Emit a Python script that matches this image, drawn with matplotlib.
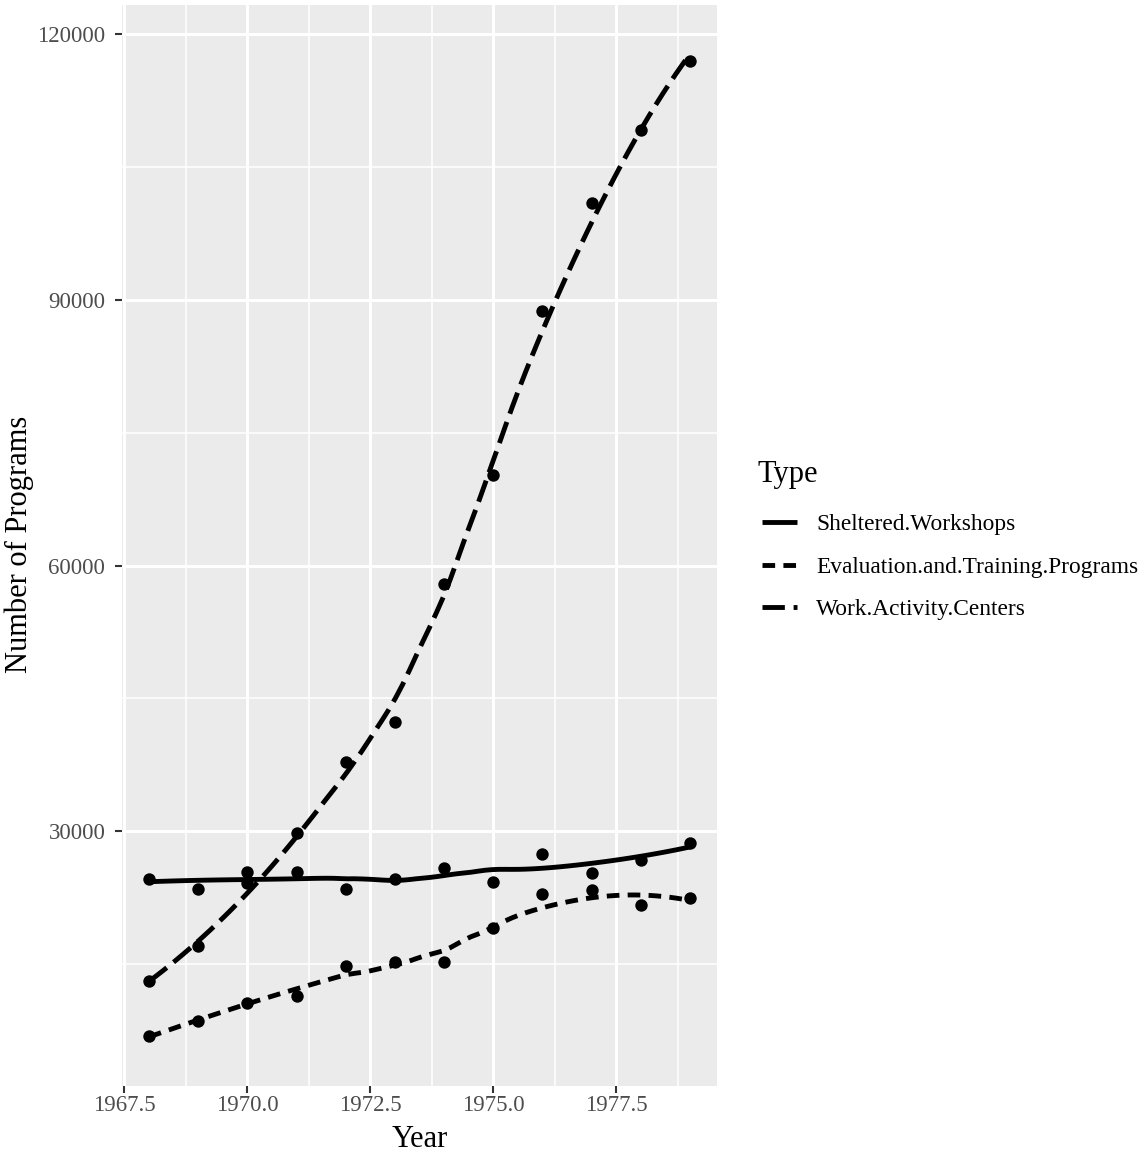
import numpy as np
import matplotlib
matplotlib.use("Agg")
import matplotlib.pyplot as plt
from matplotlib.lines import Line2D
from matplotlib.ticker import MultipleLocator

# ---------------- data ----------------
years = [1968, 1969, 1970, 1971, 1972, 1973, 1974, 1975, 1976, 1977, 1978, 1979]
sheltered_workshops = [24590, 23460, 25380, 25440, 23490, 24620, 25830, 24250, 27440, 25260, 26760, 28650]
evaluation_training = [6910, 8530, 10600, 11430, 14730, 15250, 15180, 19060, 22900, 23380, 21690, 22440]
work_activity_centers = [13040, 16990, 24140, 29840, 37850, 42360, 57890, 70260, 88710, 100940, 109200, 116990]

series_names = ["Sheltered.Workshops", "Evaluation.and.Training.Programs", "Work.Activity.Centers"]
legend_title = "Type"
x_label = "Year"
y_label = "Number of Programs"
x_ticks = [1967.5, 1970.0, 1972.5, 1975.0, 1977.5]
y_ticks = [30000, 60000, 90000, 120000]


def loess(x, y, xnew, span=0.75):
    """Local quadratic regression with tricube weights (as geom_smooth's loess)."""
    x = np.asarray(x, float)
    y = np.asarray(y, float)
    n = len(x)
    q = int(np.floor(n * span))
    out = []
    for x0 in xnew:
        d = np.abs(x - x0)
        h = np.sort(d)[q - 1] * 1.0000001
        w = np.clip(1 - (d / h) ** 3, 0, None) ** 3
        X = np.vstack([np.ones(n), x - x0, (x - x0) ** 2]).T
        W = np.diag(w)
        beta = np.linalg.lstsq(X.T @ W @ X, X.T @ W @ y, rcond=None)[0]
        out.append(beta[0])
    return np.array(out)


plt.rcParams["font.family"] = ["Liberation Serif", "DejaVu Serif"]

W_PX, H_PX, DPI = 1143, 1163, 100
fig = plt.figure(figsize=(W_PX / DPI, H_PX / DPI), dpi=DPI)
ax = fig.add_axes([122 / W_PX, 1 - 1086 / H_PX, (717 - 122) / W_PX, (1086 - 5) / H_PX])

ax.set_facecolor("#EBEBEB")
for s in ax.spines.values():
    s.set_visible(False)

ax.xaxis.set_major_locator(MultipleLocator(2.5))
ax.xaxis.set_minor_locator(MultipleLocator(1.25))
ax.yaxis.set_major_locator(MultipleLocator(30000))
ax.yaxis.set_minor_locator(MultipleLocator(15000))
ax.grid(which="major", color="white", linewidth=2.1)
ax.grid(which="minor", color="white", linewidth=1.1)
ax.set_axisbelow(True)

lw = 3.5
styles = [
    dict(linestyle="-"),
    dict(linestyle=(0, (2.6, 1.7))),
    dict(linestyle=(0, (4.6, 1.8))),
]
xs = np.linspace(min(years), max(years), 80)
all_series = [sheltered_workshops, evaluation_training, work_activity_centers]
handles = []
all_y = []
for name, vals, st in zip(series_names, all_series, styles):
    ax.scatter(years, vals, s=80, color="black", zorder=3, linewidths=0)
    ys = loess(years, vals, xs)
    all_y.append(np.asarray(vals, float))
    all_y.append(ys)
    ax.plot(xs, ys, color="black", lw=lw, solid_capstyle="butt", dash_capstyle="butt", zorder=4, **st)
    handles.append(Line2D([], [], color="black", lw=lw, dash_capstyle="butt", solid_capstyle="butt", **st))

# limits with 5% expansion like ggplot (points and smooth lines both train the scale)
allv = np.concatenate(all_y)
xr = max(years) - min(years)
yr = allv.max() - allv.min()
ax.set_xlim(min(years) - 0.05 * xr, max(years) + 0.05 * xr)
ax.set_ylim(allv.min() - 0.05 * yr, allv.max() + 0.05 * yr)

ax.set_xticks(x_ticks)
ax.set_xticklabels([f"{t:.1f}" for t in x_ticks])
ax.set_yticks(y_ticks)
ax.set_yticklabels([str(t) for t in y_ticks])
ax.tick_params(which="major", length=5, width=1.5, color="#333333", labelcolor="#4D4D4D", labelsize=16.5)
ax.tick_params(axis="y", pad=7)
ax.tick_params(axis="x", pad=1.5)
ax.tick_params(which="minor", length=0)

# axis titles
fig.text(420 / W_PX, 1 - 1147 / H_PX, x_label, fontsize=22.0, ha="center", va="baseline")
fig.text(27 / W_PX, 1 - 544.5 / H_PX, y_label, fontsize=22.0, rotation=90,
         rotation_mode="anchor", ha="center", va="baseline")

# legend
fig.text(757 / W_PX, 1 - 482 / H_PX, legend_title, fontsize=22.0, ha="left", va="baseline")
leg = fig.legend(handles, series_names, loc="upper left",
                 bbox_to_anchor=(762 / W_PX, 1 - 514 / H_PX), frameon=False,
                 fontsize=16.8, handlelength=1.5, borderpad=0, borderaxespad=0,
                 handletextpad=0.82, labelspacing=0.9)

fig.savefig("out.png", dpi=DPI)
